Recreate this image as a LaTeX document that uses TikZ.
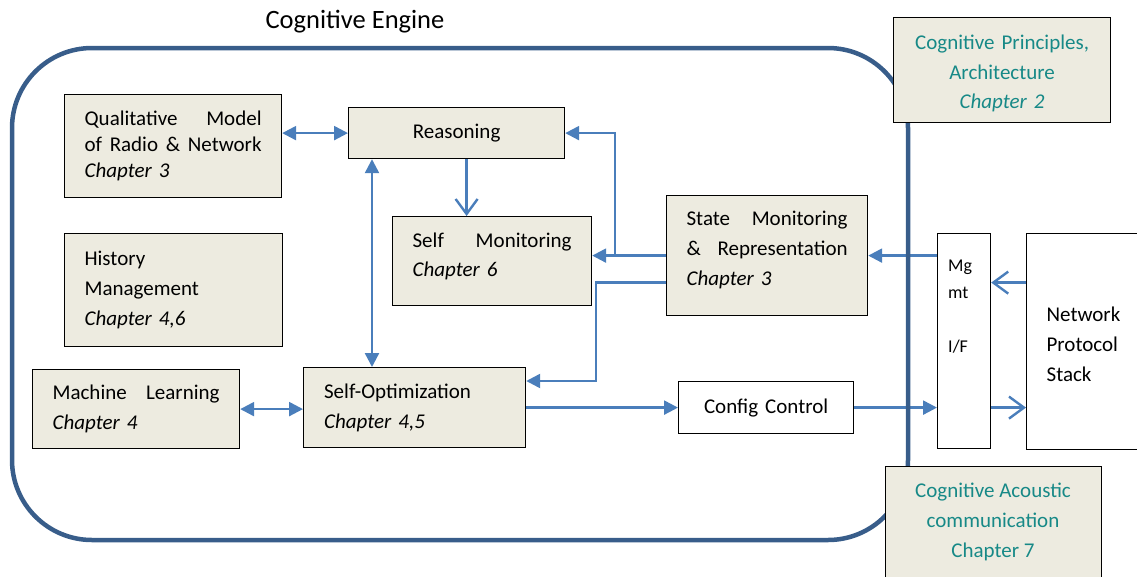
\documentclass[tikz,border=0pt]{standalone}
\usepackage{fontspec}
\setmainfont{Carlito}
\usetikzlibrary{arrows.meta}
\definecolor{boxfill}{RGB}{237,235,224}
\definecolor{arrowblue}{RGB}{74,126,187}
\definecolor{engineblue}{RGB}{56,93,138}
\definecolor{tealtext}{RGB}{23,137,135}
\tikzset{
  filltip/.tip={Triangle[length=14pt,width=14pt]},
  opentip/.tip={Straight Barb[length=15pt,width=22pt]},
}
\begin{document}
\begin{tikzpicture}[x=1pt,y=-1pt,
  box/.style={draw=black, line width=1.2pt, fill=boxfill, rectangle, inner xsep=20pt, inner ysep=0pt,
    font=\fontsize{21}{30}\selectfont, align=left, anchor=north west},
  whitebox/.style={draw=black, line width=1.2pt, fill=white, rectangle, inner xsep=20pt, inner ysep=0pt,
    font=\fontsize{21}{30}\selectfont, anchor=north west},
  conn/.style={draw=arrowblue, line width=2.4pt},
  tealbox/.style={box, text=tealtext, align=center, font=\fontsize{21}{29.5}\selectfont},
]
\useasboundingbox (0,0) rectangle (1137,576);

\node[font=\fontsize{26.5}{32}\selectfont] (title) at (355,22) {Cognitive Engine};

\node[box, minimum width=217pt, minimum height=103pt, text width=177pt, font=\fontsize{21}{26}\selectfont] (qual) at (64,94)
  {Qualitative\hfill Model\\ of\hfill Radio\hfill \&\hfill Network\\ \textit{Chapter 3}};
\node[box, align=center, minimum width=216pt, minimum height=51pt, text width=176pt] (reason) at (348,107) {Reasoning};
\node[box, minimum width=199pt, minimum height=89pt, text width=159pt, font=\fontsize{21}{29}\selectfont] (selfmon) at (392,216)
  {Self\hfill Monitoring\\ \textit{Chapter 6}\rule[-13pt]{0pt}{1pt}};
\node[box, minimum width=201pt, minimum height=120pt, text width=161pt] (state) at (666,195)
  {State\hfill Monitoring\\ \&\hfill Representation\\ \textit{Chapter 3}\rule[-15pt]{0pt}{1pt}};
\node[box, minimum width=218pt, minimum height=113pt, text width=178pt] (history) at (64,233)
  {History\\ Management\\ \textit{Chapter 4,6}};
\node[box, minimum width=207pt, minimum height=79pt, text width=167pt] (machine) at (32,369)
  {Machine\hfill Learning\\ \textit{Chapter 4}};
\node[box, minimum width=222pt, minimum height=80pt, text width=181pt] (selfopt) at (303,367)
  {Self-Optimization\\ \textit{Chapter 4,5}};
\node[whitebox, align=center, minimum width=175pt, minimum height=52pt, text width=135pt] (config) at (678,381) {Config Control};
\node[whitebox, minimum width=53pt, minimum height=215pt, inner xsep=0pt] (mgmt) at (937,233) {};
\node[anchor=north west, inner sep=0pt, align=left, font=\fontsize{18}{27}\selectfont] (mgmttext) at (948,260)
  {Mg\\ mt\\[27pt] I/F};
\node[whitebox, align=left, minimum width=134pt, minimum height=216pt, text width=94pt] (network) at (1026,233)
  {\rule{0pt}{20pt}Network\\ Protocol\\ Stack};

% connectors
\draw[conn, filltip-filltip] (qual.east |- reason.west) -- (reason.west);
\draw[conn, filltip-filltip] ([xshift=24pt]reason.south west) -- ([xshift=24pt]reason.south west |- selfopt.north);
\draw[conn, -opentip] ([xshift=10pt]reason.south) -- ([xshift=10pt]reason.south |- selfmon.north);
\draw[conn, -filltip] (state.west) -- (state.west -| selfmon.east);
\coordinate (branch) at ([xshift=-51pt]state.west);
\draw[conn, -filltip] (branch) |- (reason.east);
\draw[conn, -filltip] ([yshift=-27pt]state.west) -- ++(-70,0) |- ([yshift=-14pt]selfopt.north east);
\draw[conn, filltip-filltip] (machine.east) -- (machine.east -| selfopt.west);
\draw[conn, -filltip] (selfopt.east |- config.west) -- (config.west);
\draw[conn, -filltip] (config.east) -- (config.east -| mgmt.west);
\draw[conn, -filltip] (mgmt.west |- state.east) -- (state.east);
\draw[conn, -opentip] ([yshift=59pt]network.west) -- ([yshift=59pt]network.west -| mgmt.east);
\draw[conn, -opentip] (mgmt.east |- config.east) -- (network.west |- config.east);

% engine outline
\draw[engineblue, line width=4.5pt, rounded corners=80pt] (12,48) rectangle (908,540);

\node[tealbox, minimum width=217pt, minimum height=105pt, text width=177pt] (principles) at (893,17)
  {\rule{0pt}{22pt}Cognitive Principles,\\ Architecture\\ \textit{Chapter 2}};
\node[box, minimum width=216pt, minimum height=160pt] (acoustic) at (885,466) {};
\node[align=center, text=tealtext, font=\fontsize{21}{30}\selectfont] (acoustictext) at (993,522)
  {Cognitive Acoustic\\ communication\\ Chapter 7};
\end{tikzpicture}
\end{document}
